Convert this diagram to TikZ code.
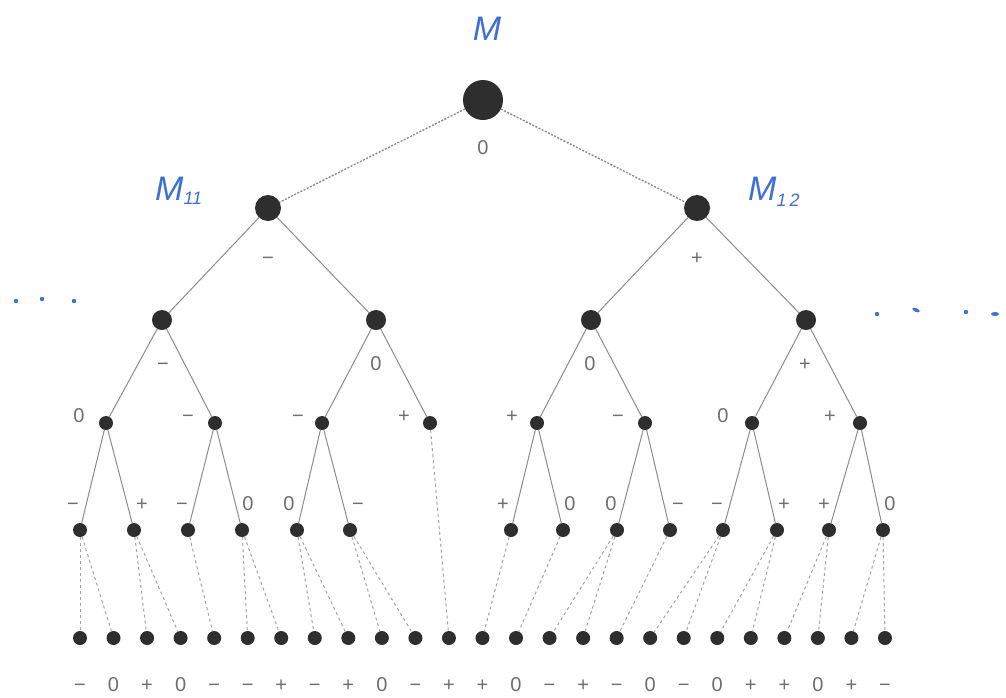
\documentclass[tikz,border=0pt]{standalone}
\usepackage{fontspec}
\setmainfont{Liberation Sans}
\definecolor{nodefill}{HTML}{2E2E2E}
\definecolor{edgecol}{HTML}{8C8C8C}
\definecolor{labcol}{HTML}{6E6E6E}
\definecolor{handblue}{HTML}{3F6FD9}
\tikzset{
  dotn/.style={circle,fill=nodefill,draw=none,inner sep=0pt,minimum size=#1},
  n0/.style={dotn=40pt},
  n1/.style={dotn=26pt},
  n2/.style={dotn=20pt},
  n3/.style={dotn=14pt},
  tree/.style={draw=edgecol,line width=1pt},
  topedge/.style={draw=edgecol,line width=1.4pt,dash pattern=on 2pt off 1.5pt},
  leafedge/.style={draw=edgecol!80,line width=1pt,dash pattern=on 3pt off 3pt},
  lab/.style={text=labcol,font=\fontsize{20}{22}\selectfont,inner sep=0pt,text height=14.3pt,text depth=0pt},
  hand/.style={text=handblue,font=\itshape\fontsize{34}{36}\selectfont,inner sep=0pt},
  bdot/.style={fill=handblue,draw=none}
}
\begin{document}
\begin{tikzpicture}[x=1pt,y=-1pt]
\fill[white] (0,0) rectangle (1006,697);
\useasboundingbox (0,0) rectangle (1006,697);
% nodes
\node[n0] (r) at (483,100) {};
\node[n1] (a1) at (268,208) {};
\node[n1] (a2) at (697,208) {};
\foreach \i/\x in {1/162,2/376,3/591,4/806}
  \node[n2] (b\i) at (\x,320) {};
\foreach \i/\x in {1/106,2/215,3/322,4/430,5/537,6/645,7/752,8/860}
  \node[n3] (c\i) at (\x,423) {};
\foreach \i/\x in {1/80,2/134,3/188,4/242,5/297,6/350,7/511,8/563,9/617,10/670,11/723,12/777,13/829,14/883}
  \node[n3] (d\i) at (\x,530) {};
\foreach \i in {1,...,25}
  \node[n3] (l\i) at ({80+(\i-1)*33.54},638) {};
% edges
\draw[topedge] (r) -- (a1);
\draw[topedge] (r) -- (a2);
\draw[tree] (a1) -- (b1);
\draw[tree] (a1) -- (b2);
\draw[tree] (a2) -- (b3);
\draw[tree] (a2) -- (b4);
\draw[tree] (b1) -- (c1);
\draw[tree] (b1) -- (c2);
\draw[tree] (b2) -- (c3);
\draw[tree] (b2) -- (c4);
\draw[tree] (b3) -- (c5);
\draw[tree] (b3) -- (c6);
\draw[tree] (b4) -- (c7);
\draw[tree] (b4) -- (c8);
\draw[tree] (c1) -- (d1);
\draw[tree] (c1) -- (d2);
\draw[tree] (c2) -- (d3);
\draw[tree] (c2) -- (d4);
\draw[tree] (c3) -- (d5);
\draw[tree] (c3) -- (d6);
\draw[tree] (c5) -- (d7);
\draw[tree] (c5) -- (d8);
\draw[tree] (c6) -- (d9);
\draw[tree] (c6) -- (d10);
\draw[tree] (c7) -- (d11);
\draw[tree] (c7) -- (d12);
\draw[tree] (c8) -- (d13);
\draw[tree] (c8) -- (d14);
\foreach \a/\b in {d1/l1,d1/l2,d2/l3,d2/l4,d3/l5,d4/l6,d4/l7,d5/l8,d5/l9,d6/l10,d6/l11,c4/l12,d7/l13,d8/l14,d9/l15,d9/l16,d10/l17,d11/l18,d11/l19,d12/l20,d12/l21,d13/l22,d13/l23,d14/l24,d14/l25}
  \draw[leafedge] (\a) -- (\b);
% labels
\node[lab] (t0) at (483,147) {0};
\node[lab] (t11) at (268,257) {−};
\node[lab] (t12) at (697,257) {+};
\foreach \i/\x/\s in {1/163/−,2/376/0,3/590/0,4/805/+}
  \node[lab] (u\i) at (\x,363) {\s};
\foreach \i/\x/\s in {1/79/0,2/188/−,3/298/−,4/404/+,5/512/+,6/618/−,7/723/0,8/830/+}
  \node[lab] (v\i) at (\x,415) {\s};
\foreach \i/\x/\s in {1/73/−,2/142/+,3/182/−,4/248/0,5/289/0,6/358/−,7/503/+,8/570/0,9/611/0,10/678/−,11/717/−,12/784/+,13/824/+,14/890/0}
  \node[lab] (w\i) at (\x,503) {\s};
\foreach \i/\s in {1/−,2/0,3/+,4/0,5/−,6/−,7/+,8/−,9/+,10/0,11/−,12/+,13/+,14/0,15/−,16/+,17/−,18/0,19/−,20/0,21/+,22/+,23/0,24/+,25/−}
  \node[lab] (z\i) at ({80+(\i-1)*33.54},684) {\s};
% handwritten labels
\node[hand] (hM) at (487,29) {M};
\node[hand,anchor=base west] (hM11) at (155,200) {M\raisebox{-4pt}{\fontsize{18}{18}\selectfont 11}};
\node[hand,anchor=base west] (hM12) at (748,200) {M\raisebox{-6pt}{\fontsize{18}{18}\selectfont 1\,2}};
% hand-drawn dots
\foreach \x/\y in {16/301,42/299,74/301,877/314,966/312}
  \fill[bdot] (\x,\y) circle (2.2pt);
\fill[bdot,rotate around={-25:(916,310)}] (916,310) ellipse (4pt and 1.8pt);
\fill[bdot] (995,314) ellipse (4pt and 2pt);
\end{tikzpicture}
\end{document}
